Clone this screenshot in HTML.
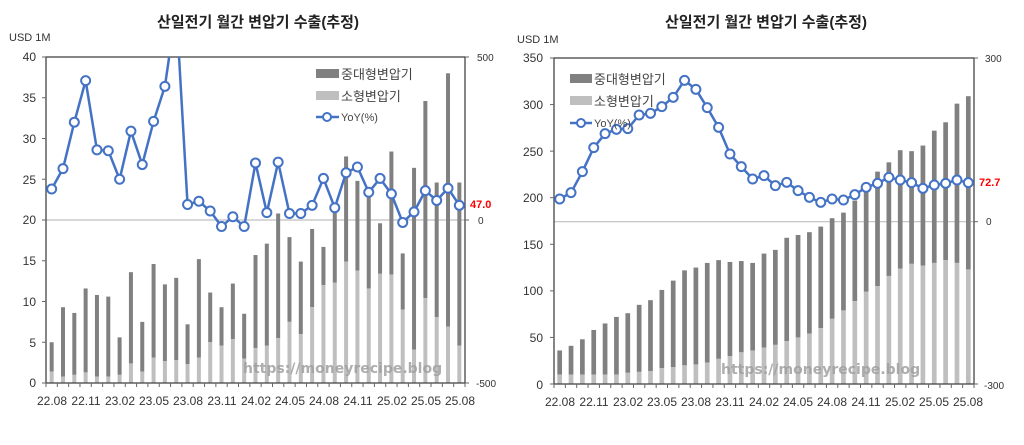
<!DOCTYPE html>
<html><head><meta charset="utf-8"><style>
body{margin:0;background:#fff;width:1024px;height:445px;overflow:hidden}
svg{position:absolute;left:0;top:0}
text{font-family:"Liberation Sans","Noto Sans CJK KR",sans-serif;fill:#333}
.t{font-size:15px;font-weight:bold;fill:#222}
.ax{font-size:12px;fill:#444}
.rax{font-size:10px;fill:#555}
.lg{font-size:13px;fill:#444}
.wm{font-size:14px;fill:#a0a0a0;font-family:"DejaVu Sans","Liberation Sans",sans-serif;font-weight:bold;opacity:.85}
</style></head><body>
<svg id="s" width="1024" height="445" viewBox="0 0 1024 445">
<rect width="1024" height="445" fill="#fff"/>
<g id="L"></g><g id="R"></g>
<text class="t" x="258" y="27" text-anchor="middle">산일전기 월간 변압기 수출(추정)</text>
<text x="9" y="41" style="font-size:11px">USD 1M</text>
<g class="ax" text-anchor="end">
<text x="36" y="61">40</text><text x="36" y="102">35</text><text x="36" y="143">30</text><text x="36" y="184">25</text><text x="36" y="224">20</text><text x="36" y="265">15</text><text x="36" y="306">10</text><text x="36" y="347">5</text><text x="36" y="387">0</text>
</g>
<g class="rax"><text x="477" y="61">500</text><text x="478" y="224">0</text><text x="476" y="387">-500</text></g>
<text x="470" y="208" style="font-size:11px;font-weight:bold;fill:#ff0000">47.0</text>
<g class="ax" text-anchor="middle">
<text x="52" y="405">22.08</text><text x="86" y="405">22.11</text><text x="120" y="405">23.02</text><text x="154" y="405">23.05</text><text x="188" y="405">23.08</text><text x="222" y="405">23.11</text><text x="256" y="405">24.02</text><text x="290" y="405">24.05</text><text x="324" y="405">24.08</text><text x="358" y="405">24.11</text><text x="392" y="405">25.02</text><text x="426" y="405">25.05</text><text x="460" y="405">25.08</text>
</g>
<rect x="316" y="69" width="23" height="9" fill="#808080"/><text class="lg" x="341" y="79">중대형변압기</text>
<rect x="316" y="91" width="23" height="9" fill="#bfbfbf"/><text class="lg" x="341" y="101">소형변압기</text>
<line x1="316" y1="117" x2="339" y2="117" stroke="#4472c4" stroke-width="2.5"/><circle cx="327" cy="117" r="4" fill="#fff" stroke="#4472c4" stroke-width="2"/><text x="341" y="121" style="font-size:11px;fill:#444">YoY(%)</text>
<text class="wm" x="243" y="373">https://moneyrecipe.blog</text>
<text class="t" x="766" y="27" text-anchor="middle">산일전기 월간 변압기 수출(추정)</text>
<text x="517" y="43" style="font-size:11px">USD 1M</text>
<g class="ax" text-anchor="end">
<text x="543" y="62">350</text><text x="543" y="109">300</text><text x="543" y="156">250</text><text x="543" y="202">200</text><text x="543" y="249">150</text><text x="543" y="295">100</text><text x="543" y="342">50</text><text x="543" y="389">0</text>
</g>
<g class="rax"><text x="985" y="62">300</text><text x="986" y="225">0</text><text x="984" y="389">-300</text></g>
<text x="979" y="186" style="font-size:11px;font-weight:bold;fill:#ff0000">72.7</text>
<g class="ax" text-anchor="middle">
<text x="560" y="406">22.08</text><text x="594" y="406">22.11</text><text x="628" y="406">23.02</text><text x="662" y="406">23.05</text><text x="696" y="406">23.08</text><text x="730" y="406">23.11</text><text x="764" y="406">24.02</text><text x="798" y="406">24.05</text><text x="832" y="406">24.08</text><text x="866" y="406">24.11</text><text x="900" y="406">25.02</text><text x="934" y="406">25.05</text><text x="968" y="406">25.08</text>
</g>
<rect x="570" y="74" width="22" height="9" fill="#808080"/><text class="lg" x="594" y="84">중대형변압기</text>
<rect x="570" y="96" width="22" height="9" fill="#bfbfbf"/><text class="lg" x="594" y="106">소형변압기</text>
<line x1="570" y1="123" x2="592" y2="123" stroke="#4472c4" stroke-width="2.5"/><circle cx="581" cy="123" r="4" fill="#fff" stroke="#4472c4" stroke-width="2"/><text x="594" y="127" style="font-size:11px;fill:#444">YoY(%)</text>
<text class="wm" x="721" y="374">https://moneyrecipe.blog</text>
</svg>
<script>
const NS="http://www.w3.org/2000/svg";
function el(p,t,a){const e=document.createElementNS(NS,t);for(const k in a)e.setAttribute(k,a[k]);p.appendChild(e);return e;}
function chart(g,cfg){
 const {x0,x1,y0,y1,max,tot,sm,yoy,bw,zero,ticks}=cfg;
 const n=tot.length,sw=(x1-x0)/n,sc=(y1-y0)/max;
 el(g,'line',{x1:x0,y1:zero,x2:x1,y2:zero,stroke:'#bfbfbf','stroke-width':1.2});
 for(let i=0;i<n;i++){const cx=x0+(i+.5)*sw;
  el(g,'rect',{x:cx-bw/2,y:y1-tot[i]*sc,width:bw,height:(tot[i]-sm[i])*sc,fill:'#808080'});
  el(g,'rect',{x:cx-bw/2,y:y1-sm[i]*sc,width:bw,height:sm[i]*sc,fill:'#bfbfbf'});
 }
 el(g,'rect',{x:x0,y:y0,width:x1-x0,height:y1-y0,fill:'none',stroke:'#444','stroke-width':1.3});
 for(let i=0;i<=n;i++){const x=x0+i*sw;el(g,'line',{x1:x,y1:y1,x2:x,y2:y1+4,stroke:'#666'});}
 for(let k=0;k<=ticks;k++){const y=y0+k*(y1-y0)/ticks;el(g,'line',{x1:x0-4,y1:y,x2:x0,y2:y,stroke:'#666'});}
 [y0,zero,y1].forEach(y=>el(g,'line',{x1:x1,y1:y,x2:x1+4,y2:y,stroke:'#666'}));
 const cp=el(g,'clipPath',{id:'c'+x0});el(cp,'rect',{x:x0-8,y:y0,width:x1-x0+16,height:y1-y0});
 const lg=el(g,'g',{'clip-path':'url(#c'+x0+')'});
 const pts=yoy.map((v,i)=>[x0+(i+.5)*sw,v]);
 el(lg,'polyline',{points:pts.map(p=>p.join(',')).join(' '),fill:'none',stroke:'#4472c4','stroke-width':2.5,'stroke-linejoin':'round'});
 pts.forEach(p=>el(lg,'circle',{cx:p[0],cy:p[1],r:4.5,fill:'#fff',stroke:'#4472c4','stroke-width':2}));
}
const Lt=[5,9.3,8.6,11.6,10.8,10.6,5.6,13.6,7.5,14.6,12.1,12.9,7.2,15.2,11.1,9.3,12.2,8.5,15.7,17.1,20.8,17.9,14.9,18.9,16.7,22,27.8,24.8,23,19.6,28.4,15.9,26.4,34.6,24.6,38,24.6];
const Ls=[1.4,.8,1,1.3,.8,.8,1,2.4,1.4,3.1,2.7,2.8,2.3,3.1,5,4.6,5.4,3,4.3,4.6,5.5,7.5,6,9.3,12,12.3,14.9,13.8,11.6,13.4,13.3,9,4.1,10.4,8.1,6.9,4.6];
const Ly=[23.8,26.3,32,37.1,28.6,28.5,25,30.9,26.8,32.1,36.4,46,21.9,22.3,21.1,19.2,20.4,19.2,27,20.9,27.1,20.8,20.8,21.8,25.1,21.5,25.8,26.5,23.4,25.1,23.2,19.7,21,23.6,22.4,23.9,21.8].map(v=>383-v*8.15);
chart(document.getElementById('L'),{x0:46,x1:465,y0:57,y1:383,max:40,tot:Lt,sm:Ls,yoy:Ly,bw:4,zero:220,ticks:8});
const Rt=[36,41,48,58,65,72,76,85,90,101,111,122,125,130,133,131,132,130,140,144,157,160,163,169,178,184,197,206,228,238,251,250,256,272,281,301,309];
const Rs=[10,10,10,10,10,10,12,13,14,17,18,20,21,23,27,30,34,36,39,42,46,50,54,60,70,79,89,99,105,116,124,129,127,130,133,130,123];
const Ry=[597,578,515,443,401,388,386,345,340,320,292,241,268,323,382,462,500,537,527,557,547,572,592,607,597,600,584,562,550,532,540,548,565,555,550,540,548].map(v=>v/3);
chart(document.getElementById('R'),{x0:554,x1:974,y0:58,y1:384,max:350,tot:Rt,sm:Rs,yoy:Ry,bw:4.7,zero:221.7,ticks:7});
</script>
</body></html>
